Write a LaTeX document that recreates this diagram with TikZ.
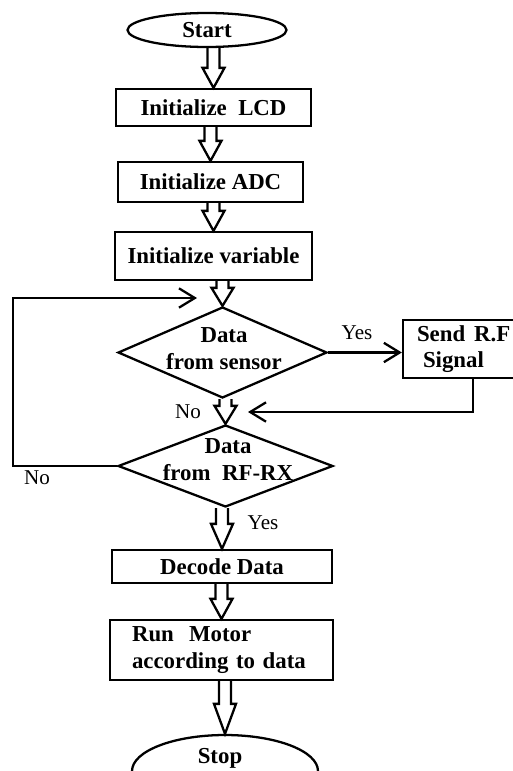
\documentclass[tikz,border=0pt]{standalone}
\usepackage{fontspec}
\setmainfont{Liberation Serif}
\usetikzlibrary{shapes.geometric, calc, arrows.meta}

\tikzset{
  box/.style={draw, line width=1.3pt, inner sep=0pt, font=\bfseries\fontsize{13}{15}\selectfont},
  term/.style={box, ellipse},
  decision/.style={draw, line width=1.3pt, diamond, inner sep=0pt},
  txt/.style={font=\bfseries\fontsize{13}{15.5}\selectfont, align=center, inner sep=0pt},
  lbl/.style={font=\fontsize{12}{14}\selectfont, inner sep=0pt},
  barb/.style={line width=1.3pt, -{Straight Barb[length=9pt, width=11pt]}},
  hollow/.style={line width=1.3pt, line join=miter}
}
% hollow arrow from #2 down to #3, head length #1
\newcommand{\harrow}[3][20]{%
  \draw[hollow] ($(#2.south -| #3.north)+(-6,0)$) -- ($(#3.north)+(-6,-#1)$)
    -- ($(#3.north)+(-11,-#1)$) -- (#3.north) -- ($(#3.north)+(11,-#1)$)
    -- ($(#3.north)+(6,-#1)$) -- ($(#2.south -| #3.north)+(6,0)$);}

\begin{document}
\begin{tikzpicture}[x=0.02cm, y=-0.02cm]
      \useasboundingbox (0,0) rectangle (513,771);
      % Steps:
      \node[term, minimum width=3.18cm, minimum height=0.68cm] (start) at (207,30) {Start};
      \node[box, minimum width=3.9cm, minimum height=0.74cm] (lcd) at (213.5,107.5) {Initialize\ \ LCD};
      \node[box, minimum width=3.7cm, minimum height=0.8cm] (adc) at (210.5,182) {Initialize ADC};
      \node[box, minimum width=3.94cm, minimum height=0.96cm] (var) at (213.5,256) {Initialize variable};
      \node[decision, minimum width=4.18cm, minimum height=1.82cm] (sensor) at (222.5,352.5) {};
      \node[txt] (sensortxt) at (224,349) {Data\\from sensor};
      \node[box, minimum width=2.8cm, minimum height=1.16cm, inner xsep=0.28cm, text width=2.24cm, align=left] (rf) at (473,349) {Send\hspace{0.18cm}R.F\\\hspace*{0.12cm}Signal};
      \node[decision, minimum width=4.3cm, minimum height=1.64cm] (rx) at (225.5,466) {};
      \node[txt] (rxtxt) at (228,460) {Data\\from\ \ RF-RX};
      \node[box, minimum width=4.4cm, minimum height=0.66cm] (decode) at (222,566.5) {Decode Data};
      \node[box, minimum width=4.46cm, minimum height=1.2cm, inner xsep=0.44cm, text width=3.58cm, align=left] (motor) at (221.5,650) {Run\ \ Motor\\according to data};
      \node[term, minimum width=3.72cm, minimum height=1.44cm] (stop) at (225,771) {};
      \node[txt] (stoptxt) at (220,758) {Stop};
      % Labels:
      \node[lbl] (yes1) at (357,333) {Yes};
      \node[lbl] (no1) at (188,412) {No};
      \node[lbl] (no2) at (37,478) {No};
      \node[lbl] (yes2) at (263,523) {Yes};
      % Flow:
      \harrow{start}{lcd}
      \harrow{lcd}{adc}
      \harrow{adc}{var}
      \harrow[18]{var}{sensor}
      \harrow[18]{sensor}{rx}
      \harrow[25]{rx}{decode}
      \harrow{decode}{motor}
      \harrow[30]{motor}{stop}
      \coordinate (rfin) at (248,412);
      \coordinate (loopc) at (13,298);
      \coordinate (loopin) at (197,298);
      \draw[barb] (sensor.east) -- (sensor.east -| rf.west);
      \draw[barb] (rf.south) |- (rfin);
      \draw[barb] (rx.west) -| (loopc) -- (loopin);
    \end{tikzpicture}
\end{document}
